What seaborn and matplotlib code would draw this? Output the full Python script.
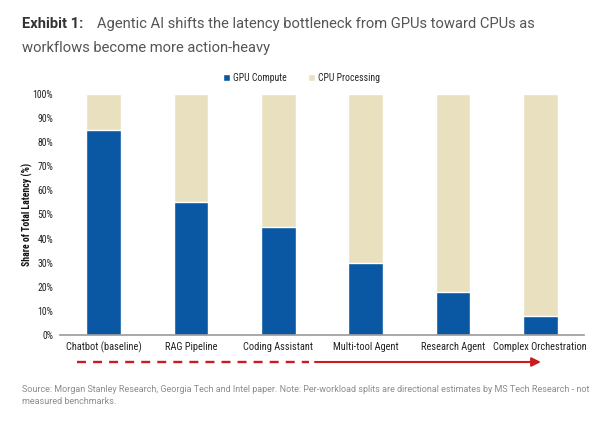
import matplotlib
matplotlib.use('Agg')
import matplotlib.pyplot as plt
import seaborn as sns
import pandas as pd
from matplotlib.patches import Patch

# Datos
categorias = ['Chatbot (baseline)', 'RAG Pipeline', 'Coding Assistant',
              'Multi-tool Agent', 'Research Agent', 'Complex Orchestration']
gpu_compute = [85, 55, 45, 30, 18, 8]
cpu_processing = [100 - g for g in gpu_compute]
y_ticks = list(range(0, 101, 10))

AZUL = '#0a58a3'
BEIGE = '#e9e0c0'
ROJO = '#cc1a1f'
NARROW = ['Roboto Condensed', 'Archivo Narrow', 'PT Sans Narrow',
          'Liberation Sans Narrow', 'DejaVu Sans']
ROBOTO = ['Roboto', 'DejaVu Sans']

sns.set_theme(style='white')
plt.rcParams['font.family'] = NARROW

df = pd.DataFrame({'workload': categorias, 'gpu': gpu_compute, 'cpu': cpu_processing})
df['total'] = df['gpu'] + df['cpu']

fig = plt.figure(figsize=(6.03, 4.25), dpi=100)
ax = fig.add_axes([60 / 603, 90 / 425, 524 / 603, 241 / 425])

sns.barplot(data=df, x='workload', y='total', color=BEIGE, width=0.4,
            saturation=1, ax=ax)
sns.barplot(data=df, x='workload', y='gpu', color=AZUL, width=0.4,
            saturation=1, ax=ax)

ax.set_xlim(-0.5, 5.5)
ax.set_ylim(0, 100)
ax.set_yticks(y_ticks)
ax.set_yticklabels([f'{t}%' for t in y_ticks], fontsize=7, color='#222222')
ax.set_xticks(range(len(categorias)))
ax.set_xticklabels(categorias, fontsize=7.5, color='#222222')
ax.tick_params(axis='both', length=0, pad=5)
ax.set_xlabel('')
ax.set_ylabel('Share of Total Latency (%)', fontsize=7, fontweight='bold',
              color='#111111')
ax.yaxis.set_label_coords(-0.052, 0.5)
for s in ['top', 'right', 'left']:
    ax.spines[s].set_visible(False)
ax.spines['bottom'].set_color('#9a9a9a')
ax.spines['bottom'].set_linewidth(1.2)

# Leyenda
handles = [Patch(facecolor=AZUL, label='GPU Compute'),
           Patch(facecolor=BEIGE, label='CPU Processing')]
fig.legend(handles=handles, loc='center', bbox_to_anchor=(0.5, 1 - 78 / 425), ncol=2,
           frameon=False, fontsize=7, handlelength=0.7, handleheight=0.7,
           handletextpad=0.3, columnspacing=2.2)

# Flecha
y_fl = 1 - 362 / 425
fig.add_artist(plt.Line2D([77 / 603, 309 / 603], [y_fl, y_fl], color=ROJO,
                          lw=1.7, linestyle=(0, (3.8, 3.0))))
ax.annotate('', xy=(541 / 603, y_fl), xycoords='figure fraction',
            xytext=(315 / 603, y_fl), textcoords='figure fraction',
            arrowprops=dict(arrowstyle='-|>,head_length=0.45,head_width=0.22',
                            color=ROJO, lw=1.5, shrinkA=0, shrinkB=0))

# Titulo
fig.text(22 / 603, 1 - 24 / 425, 'Exhibit 1:', fontsize=10.6, fontweight='bold',
         color='#333333', family=ROBOTO, va='center')
fig.text(97 / 603, 1 - 24 / 425,
         'Agentic AI shifts the latency bottleneck from GPUs toward CPUs as',
         fontsize=10.6, color='#555555', family=ROBOTO, va='center')
fig.text(22 / 603, 1 - 48 / 425, 'workflows become more action-heavy',
         fontsize=10.6, color='#555555', family=ROBOTO, va='center')

# Fuente
fig.text(22 / 603, 1 - 389 / 425,
         'Source: Morgan Stanley Research, Georgia Tech and Intel paper. Note: Per-workload splits are directional estimates by MS Tech Research - not',
         fontsize=6.5, color='#8c8c8c', family=ROBOTO, va='center')
fig.text(22 / 603, 1 - 401 / 425, 'measured benchmarks.',
         fontsize=6.5, color='#8c8c8c', family=ROBOTO, va='center')

fig.savefig('out.png', dpi=100)
